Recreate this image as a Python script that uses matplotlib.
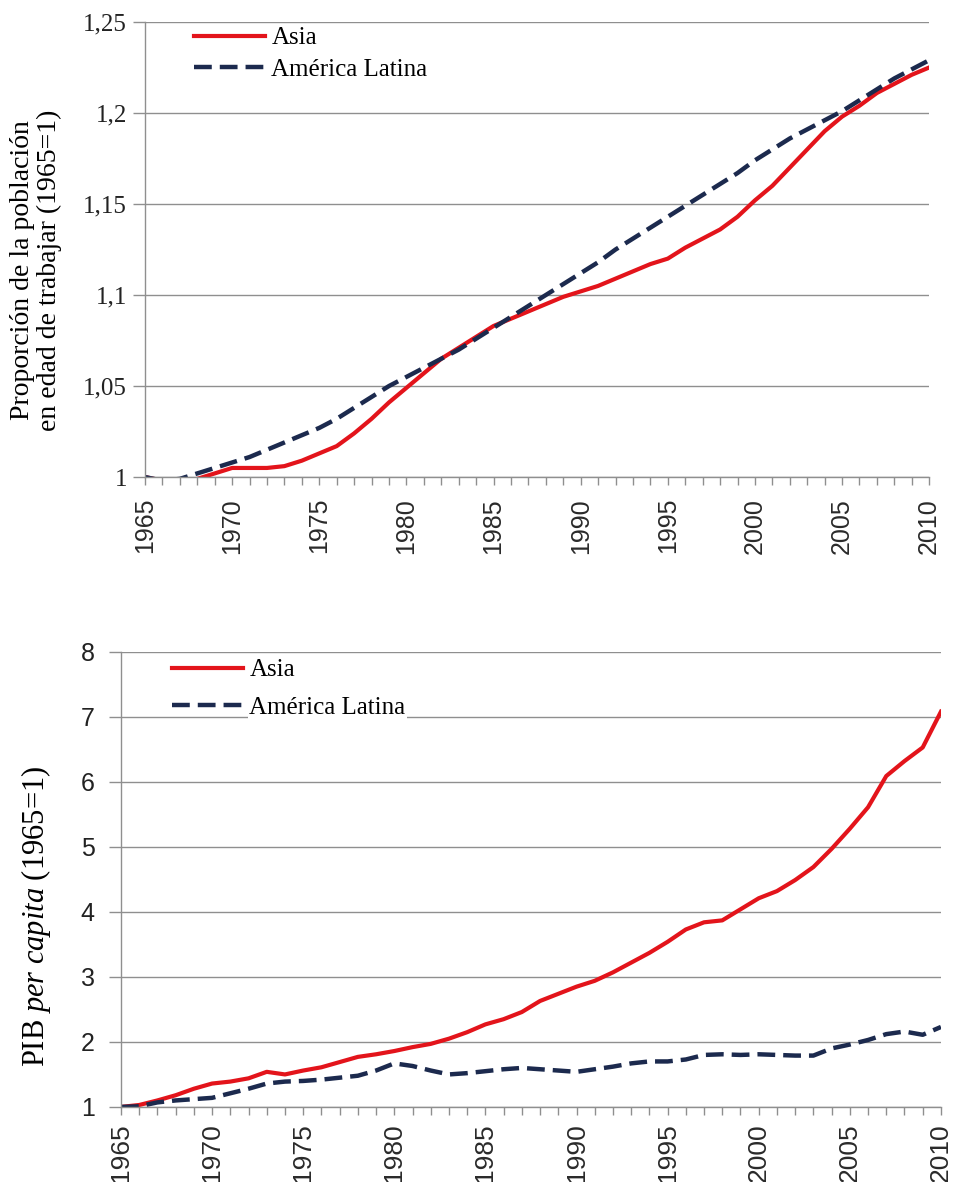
import matplotlib
matplotlib.use('Agg')
import matplotlib.pyplot as plt

years = list(range(1965, 2011))

# Proporción de la población en edad de trabajar (1965=1)
pob_asia = [1.000, 0.998, 0.997, 0.999, 1.002, 1.005, 1.005, 1.005, 1.006, 1.009,
            1.013, 1.017, 1.024, 1.032, 1.041, 1.049, 1.057, 1.065, 1.071, 1.077,
            1.083, 1.087, 1.091, 1.095, 1.099, 1.102, 1.105, 1.109, 1.113, 1.117,
            1.120, 1.126, 1.131, 1.136, 1.143, 1.152, 1.160, 1.170, 1.180, 1.190,
            1.198, 1.204, 1.211, 1.216, 1.221, 1.225]
pob_al = [1.000, 0.998, 0.999, 1.002, 1.005, 1.008, 1.011, 1.015, 1.019, 1.023,
          1.027, 1.032, 1.038, 1.044, 1.050, 1.055, 1.060, 1.065, 1.070, 1.076,
          1.082, 1.088, 1.094, 1.100, 1.106, 1.112, 1.118, 1.125, 1.131, 1.137,
          1.143, 1.149, 1.155, 1.161, 1.167, 1.174, 1.180, 1.186, 1.191, 1.196,
          1.201, 1.207, 1.213, 1.219, 1.224, 1.229]

# PIB per capita (1965=1)
pib_asia = [1.00, 1.03, 1.10, 1.18, 1.28, 1.36, 1.39, 1.44, 1.54, 1.50,
            1.56, 1.61, 1.69, 1.77, 1.81, 1.86, 1.92, 1.97, 2.05, 2.15,
            2.27, 2.35, 2.46, 2.63, 2.74, 2.85, 2.94, 3.07, 3.22, 3.37,
            3.54, 3.73, 3.84, 3.87, 4.04, 4.21, 4.32, 4.49, 4.69, 4.97,
            5.28, 5.61, 6.09, 6.32, 6.53, 7.08]
pib_al = [1.00, 1.01, 1.07, 1.10, 1.12, 1.14, 1.21, 1.28, 1.36, 1.39,
          1.40, 1.42, 1.45, 1.48, 1.56, 1.67, 1.63, 1.56, 1.50, 1.52,
          1.55, 1.58, 1.60, 1.58, 1.56, 1.54, 1.58, 1.62, 1.67, 1.70,
          1.70, 1.73, 1.80, 1.81, 1.80, 1.81, 1.80, 1.79, 1.79, 1.90,
          1.96, 2.03, 2.12, 2.16, 2.11, 2.23]

x_ticks = list(range(1965, 2011, 5))
pob_ticks = [1, 1.05, 1.1, 1.15, 1.2, 1.25]
pob_labels = ['1', '1,05', '1,1', '1,15', '1,2', '1,25']
pib_ticks = [1, 2, 3, 4, 5, 6, 7, 8]

RED = '#e3141b'
NAVY = '#1c2a4e'
GRID = '#8f8f8f'
SERIF = 'Liberation Serif'
SANS = 'Liberation Sans'

plt.rcParams['mathtext.fontset'] = 'custom'
plt.rcParams['mathtext.rm'] = SERIF
plt.rcParams['mathtext.it'] = SERIF + ':italic'


def style_axes(ax, yticks, ylabels, yfont, xsize, xpad, ypad):
    ax.set_xlim(1965, 2010)
    ax.set_ylim(yticks[0], yticks[-1])
    ax.set_yticks(yticks)
    ax.set_yticklabels(ylabels, family=yfont, fontsize=18, color='#222222')
    ax.set_xticks(x_ticks)
    ax.set_xticklabels([str(t) for t in x_ticks], rotation=90, family=SANS,
                       fontsize=xsize, color='#2a2a2a')
    ax.set_xticks(years, minor=True)
    ax.tick_params(axis='x', which='both', length=6, width=1, color=GRID,
                   direction='out', pad=xpad)
    ax.tick_params(axis='y', length=9, width=1, color=GRID, pad=ypad)
    ax.grid(axis='y', color=GRID, lw=1)
    ax.set_axisbelow(True)
    for s in ['top', 'right']:
        ax.spines[s].set_visible(False)
    for s in ['left', 'bottom']:
        ax.spines[s].set_color(GRID)
        ax.spines[s].set_linewidth(1)


def add_legend(ax, x, y, spacing):
    leg = ax.legend(loc='upper left', bbox_to_anchor=(x, y), borderaxespad=0,
                    prop={'family': SERIF, 'size': 18}, frameon=False,
                    handlelength=2.85, handletextpad=0.25,
                    labelspacing=spacing, borderpad=0.2)
    for t in leg.get_texts():
        t.set_bbox(dict(facecolor='white', edgecolor='none', pad=1))
    return leg


fig = plt.figure(figsize=(9.54, 11.82), dpi=100)

# panel superior
ax1 = fig.add_axes([0.152, 0.5964, 0.822, 0.385])
ax1.plot(years, pob_asia, color=RED, lw=3, label='Asia')
ax1.plot(years, pob_al, color=NAVY, lw=3.2, ls=(0, (4, 1.8)), label='América Latina')
style_axes(ax1, pob_ticks, pob_labels, SERIF, 18, 9, 4)
ax1.set_ylabel('Proporción de la población\nen edad de trabajar (1965=1)',
               family=SERIF, fontsize=20, linespacing=1.1)
ax1.yaxis.set_label_coords(-0.106, 0.455)
add_legend(ax1, 0.056, 1.0, 0.36)

# panel inferior
ax2 = fig.add_axes([0.1268, 0.0635, 0.8595, 0.385])
ax2.plot(years, pib_asia, color=RED, lw=3, label='Asia')
ax2.plot(years, pib_al, color=NAVY, lw=3.2, ls=(0, (4, 1.8)), label='América Latina')
style_axes(ax2, pib_ticks, [str(t) for t in pib_ticks], SANS, 19, 6, 10)
ax2.set_ylabel(r'PIB $\mathit{per\ capita}$ (1965=1)', family=SERIF, fontsize=22)
ax2.yaxis.set_label_coords(-0.083, 0.418)
add_legend(ax2, 0.056, 0.9956, 0.6)

fig.savefig('out.png', dpi=100, facecolor='white')
